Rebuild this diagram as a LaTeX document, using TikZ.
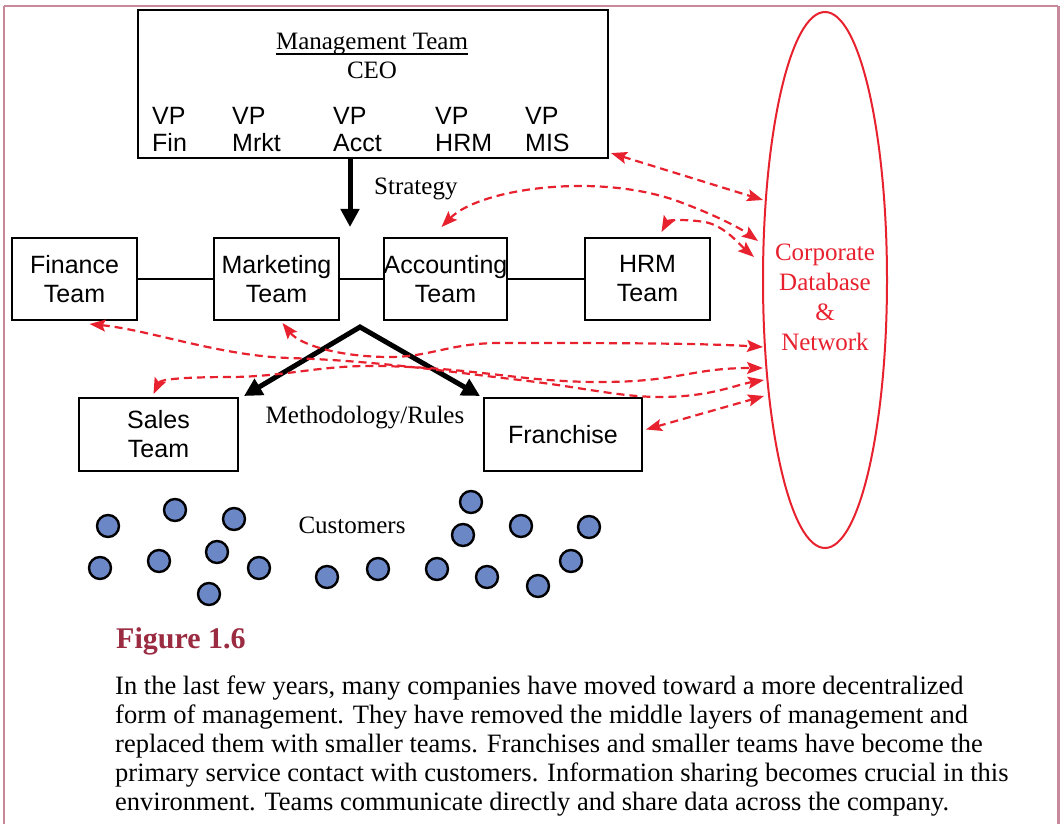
\documentclass[tikz,border=0pt]{standalone}
\usepackage{fontspec}
\setmainfont{Liberation Serif}
\newfontfamily\arial{Liberation Sans}
\usetikzlibrary{arrows.meta,shapes.geometric,calc}
\definecolor{dbred}{HTML}{E8212F}
\definecolor{framecol}{HTML}{C8899A}
\definecolor{figred}{HTML}{9A2B41}
\definecolor{custblue}{HTML}{6B87C6}
\begin{document}
\begin{tikzpicture}[x=1pt,y=-1pt,
 box/.style={draw, line width=2pt, inner sep=0pt, align=center, font=\arial\fontsize{25}{29}\selectfont},
 vptext/.style={anchor=north west, inner sep=0pt, align=left, font=\arial\fontsize{25}{27}\selectfont},
 link/.style={line width=1.6pt},
 bigarrows/.style={line width=5pt, {Triangle[length=18pt,width=18pt]}-{Triangle[length=18pt,width=18pt]}},
 bigarrow/.style={line width=5pt, -{Triangle[length=18pt,width=18pt]}},
 dataflow/.style={dbred, line width=2.2pt, dash pattern=on 8pt off 5pt, {Stealth[length=16pt,width=12pt,inset=3pt]}-{Stealth[length=16pt,width=12pt,inset=3pt]}},
 cust/.style={circle, draw, line width=2.4pt, fill=custblue, minimum size=22pt, inner sep=0pt},
 serif/.style={font=\fontsize{25}{30}\selectfont, inner sep=0pt},
 ]
\useasboundingbox (0,0) rectangle (1061,824);
\fill[white] (0,0) rectangle (1061,824);
% frame
\draw[framecol, line width=1.2pt] (4,824) -- (4,6);
\draw[framecol, line width=2pt] (4,6) -- (1058,6);
\draw[framecol, line width=3pt] (1058,6) -- (1058,824);

% management
\node[draw, line width=2.2pt, minimum width=470pt, minimum height=148pt, inner sep=0pt] (mgmt) at (373,84) {};
\node[serif, anchor=base] (mtitle) at (372,50) {Management Team};
\draw[line width=1.2pt] ($(mtitle.base west)+(0,4)$) -- ($(mtitle.base east)+(0,4)$);
\node[serif, anchor=base] (ceo) at (372,79) {CEO};
\node[vptext] (vpfin) at (152,107) {VP\\Fin};
\node[vptext] (vpmkt) at (232,107) {VP\\Mrkt};
\node[vptext] (vpacc) at (333,107) {VP\\Acct};
\node[vptext] (vphrm) at (435,107) {VP\\HRM};
\node[vptext] (vpmis) at (525,107) {VP\\MIS};

% strategy
\coordinate (stratend) at (350,227);
\draw[bigarrow] (mgmt.south -| stratend) -- (stratend);
\node[serif, anchor=base west] (strat) at (374,195) {Strategy};

% teams
\node[box, minimum width=125pt, minimum height=82pt] (fin) at (74.5,279) {Finance\\Team};
\node[box, minimum width=125pt, minimum height=82pt] (mkt) at (276.5,279) {Marketing\\Team};
\node[box, minimum width=123pt, minimum height=82pt] (acct) at (445.5,279) {Accounting\\Team};
\node[box, minimum width=125pt, minimum height=82pt] (hrm) at (647.5,279) {HRM\\Team};
\draw[link] (fin.east) -- (mkt.west);
\draw[link] (mkt.east) -- (acct.west);
\draw[link] (acct.east) -- (hrm.west);

\node[box, minimum width=159pt, minimum height=73pt] (sales) at (158.5,434.5) {Sales\\Team};
\node[box, minimum width=158pt, minimum height=73pt] (fran) at (563,434.5) {Franchise};

% methodology
\coordinate (apex) at (360,327);
\draw[bigarrows] ($(sales.north east)+(5,-1)$) -- (apex) -- ($(fran.north west)+(-3,-1)$);
\node[serif, anchor=base] (meth) at (365,423) {Methodology/Rules};

% database
\node[ellipse, draw=dbred, line width=2pt, minimum width=124pt, minimum height=536pt, inner sep=0pt] (db) at (825,280) {};
\node[align=center, text=dbred, font=\fontsize{25}{30}\selectfont, inner sep=0pt] (dbt) at (825,297) {Corporate\\Database\\\&\\Network};

\coordinate (d1) at (763,200);
\coordinate (d2) at (758,241);
\coordinate (d3) at (754,257);
\coordinate (d4) at (763,347);
\coordinate (d5) at (763,368);
\coordinate (d6) at (764,380);
\coordinate (d7) at (764,396);

\draw[dataflow] ($(mgmt.south east)+(2,-6)$) -- (d1);
\draw[dataflow] ($(acct.north)+(-4,-10)$) .. controls (480,188) and (600,172) .. (680,202) .. controls (715,215) and (740,228) .. (d2);
\draw[dataflow] ($(hrm.north)+(14,-5)$) .. controls (668,220) and (685,219) .. (705,222) .. controls (725,226) and (740,245) .. (d3);
\draw[dataflow] ($(mkt.south)+(6,2)$) .. controls (300,345) and (340,357) .. (390,357) .. controls (430,357) and (450,343) .. (500,343) .. controls (600,343) and (700,343) .. (d4);
\draw[dataflow] ($(sales.north)+(-5,-3)$) .. controls (160,380) and (175,377) .. (234,377) .. controls (290,376) and (320,365) .. (380,366) .. controls (480,368) and (520,382) .. (600,382) .. controls (680,382) and (690,368) .. (d5);
\draw[dataflow] ($(fin.south)+(15,3)$) .. controls (150,330) and (220,356) .. (290,358) .. controls (380,361) and (450,372) .. (520,380) .. controls (580,387) and (620,397) .. (660,397) .. controls (710,397) and (735,385) .. (d6);
\draw[dataflow] ($(fran.east)+(3,-5)$) -- (d7);

% customers
\foreach \px/\py [count=\i] in {108/526, 175/510, 234/519, 100/568, 159/561, 217/552, 259/568, 209/594, 327/577, 378/569, 437/569, 487/577, 538/586, 471/502, 463/535, 521/526, 589/527, 571/561}
  \node[cust] (c\i) at (\px,\py) {};
\node[serif, anchor=base] (custlabel) at (352,533) {Customers};

% caption
\node[anchor=base west, inner sep=0pt, text=figred, font=\bfseries\fontsize{30}{36}\selectfont] (fig) at (116,648) {Figure 1.6};
\node[anchor=north west, inner sep=0pt, align=left, font=\fontsize{26.5}{29}\selectfont] (body) at (115,676) {In the last few years, many companies have moved toward a more decentralized\\form of management. They have removed the middle layers of management and\\replaced them with smaller teams. Franchises and smaller teams have become the\\primary service contact with customers. Information sharing becomes crucial in this\\environment. Teams communicate directly and share data across the company.};
\end{tikzpicture}
\end{document}
